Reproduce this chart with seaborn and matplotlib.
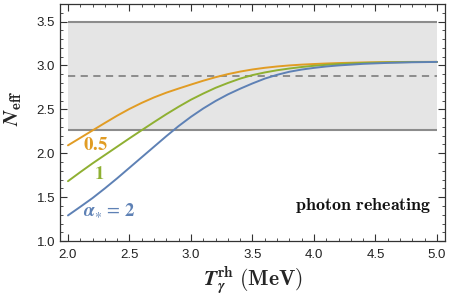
import matplotlib
matplotlib.use("Agg")
import matplotlib.pyplot as plt
from matplotlib.ticker import MultipleLocator, FormatStrFormatter
import pandas as pd
import seaborn as sns

# values
temp = [2.0, 2.1, 2.2, 2.3, 2.4, 2.5, 2.6, 2.7, 2.8, 2.9, 3.0, 3.1, 3.2, 3.3,
        3.4, 3.5, 3.6, 3.7, 3.8, 3.9, 4.0, 4.1, 4.2, 4.4, 4.6, 4.8, 5.0]
neff_05 = [2.09, 2.175, 2.26, 2.345, 2.428, 2.505, 2.574, 2.636, 2.69, 2.737,
           2.782, 2.826, 2.866, 2.901, 2.93, 2.954, 2.973, 2.988, 3.0, 3.009,
           3.016, 3.022, 3.027, 3.034, 3.038, 3.04, 3.04]
neff_1 = [1.682, 1.785, 1.885, 1.98, 2.075, 2.17, 2.263, 2.355, 2.445, 2.53,
          2.61, 2.68, 2.745, 2.80, 2.85, 2.89, 2.92, 2.945, 2.965, 2.982,
          2.996, 3.007, 3.016, 3.028, 3.035, 3.039, 3.04]
neff_2 = [1.292, 1.39, 1.49, 1.60, 1.715, 1.835, 1.955, 2.075, 2.195, 2.31,
          2.415, 2.51, 2.595, 2.67, 2.735, 2.795, 2.85, 2.893, 2.928, 2.953,
          2.972, 2.988, 3.0, 3.018, 3.029, 3.036, 3.04]
alphas = ["0.5", "1", "2"]
band_low, band_high = 2.27, 3.5
band_mid = 2.883
x_range = [2.0, 5.0]

colors = {"0.5": "#E19C24", "1": "#8FB032", "2": "#5E81B5"}

df = pd.DataFrame({
    "T": temp * 3,
    "Neff": neff_05 + neff_1 + neff_2,
    "alpha": [a for a in alphas for _ in temp],
})

sns.set_style("ticks")
plt.rcParams["font.family"] = ["Liberation Sans", "DejaVu Sans"]

fig = plt.figure(figsize=(4.49, 3.04), dpi=100)
ax = fig.add_axes([0.1336, 0.207, 0.8574, 0.780])

# observational band
ax.fill_between(x_range, band_low, band_high, color="#e5e5e5", lw=0, zorder=0)
ax.hlines([band_low, band_high], x_range[0], x_range[1], color="#8c8c8c", lw=1.5, zorder=1)
ax.hlines(band_mid, x_range[0], x_range[1], color="#858585", lw=1.3,
          linestyles=(0, (4, 3)), zorder=1)

sns.lineplot(data=df, x="T", y="Neff", hue="alpha", palette=colors,
             linewidth=1.4, legend=False, ax=ax, zorder=3)

ax.set_xlim(1.935, 5.065)
ax.set_ylim(1.0, 3.7)
ax.xaxis.set_major_locator(MultipleLocator(0.5))
ax.xaxis.set_minor_locator(MultipleLocator(0.1))
ax.yaxis.set_major_locator(MultipleLocator(0.5))
ax.yaxis.set_minor_locator(MultipleLocator(0.1))
ax.xaxis.set_major_formatter(FormatStrFormatter("%.1f"))
ax.yaxis.set_major_formatter(FormatStrFormatter("%.1f"))
ax.tick_params(which="both", direction="in", top=True, right=True,
               color="#333333", labelsize=9.5, labelcolor="#222222")
ax.tick_params(which="major", length=5, width=0.8)
ax.tick_params(which="minor", length=2.5, width=0.6)
ax.tick_params(axis="x", which="major", pad=6)
for s in ax.spines.values():
    s.set_color("#333333")
    s.set_linewidth(0.9)

ax.set_xlabel(r"$\mathbfit{T}_{\mathbfit{\gamma}}^{\mathbf{rh}}\ \mathbf{(MeV)}$",
              fontsize=15.5, math_fontfamily="cm", va="center")
ax.set_ylabel(r"$\mathbfit{N}_{\mathbf{eff}}$", fontsize=15, math_fontfamily="cm",
              va="center")
ax.xaxis.set_label_coords(0.5, -0.168)
ax.yaxis.set_label_coords(-0.122, 0.56)

ax.text(2.125, 2.087, r"$\mathbf{0.5}$", color=colors["0.5"], fontsize=13.5,
        va="center", ha="left", math_fontfamily="stix")
ax.text(2.21, 1.76, r"$\mathbf{1}$", color=colors["1"], fontsize=13.5,
        va="center", ha="left", math_fontfamily="stix")
ax.text(2.125, 1.343, r"$\mathbfit{\alpha}_{\ast}\,=\,\mathbf{2}$", color=colors["2"],
        fontsize=13.5, va="center", ha="left", math_fontfamily="stix")
ax.text(4.957, 1.405, r"$\mathbf{photon\ reheating}$", color="#111111", fontsize=13,
        va="center", ha="right", math_fontfamily="cm")

fig.savefig("out.png", dpi=100)
